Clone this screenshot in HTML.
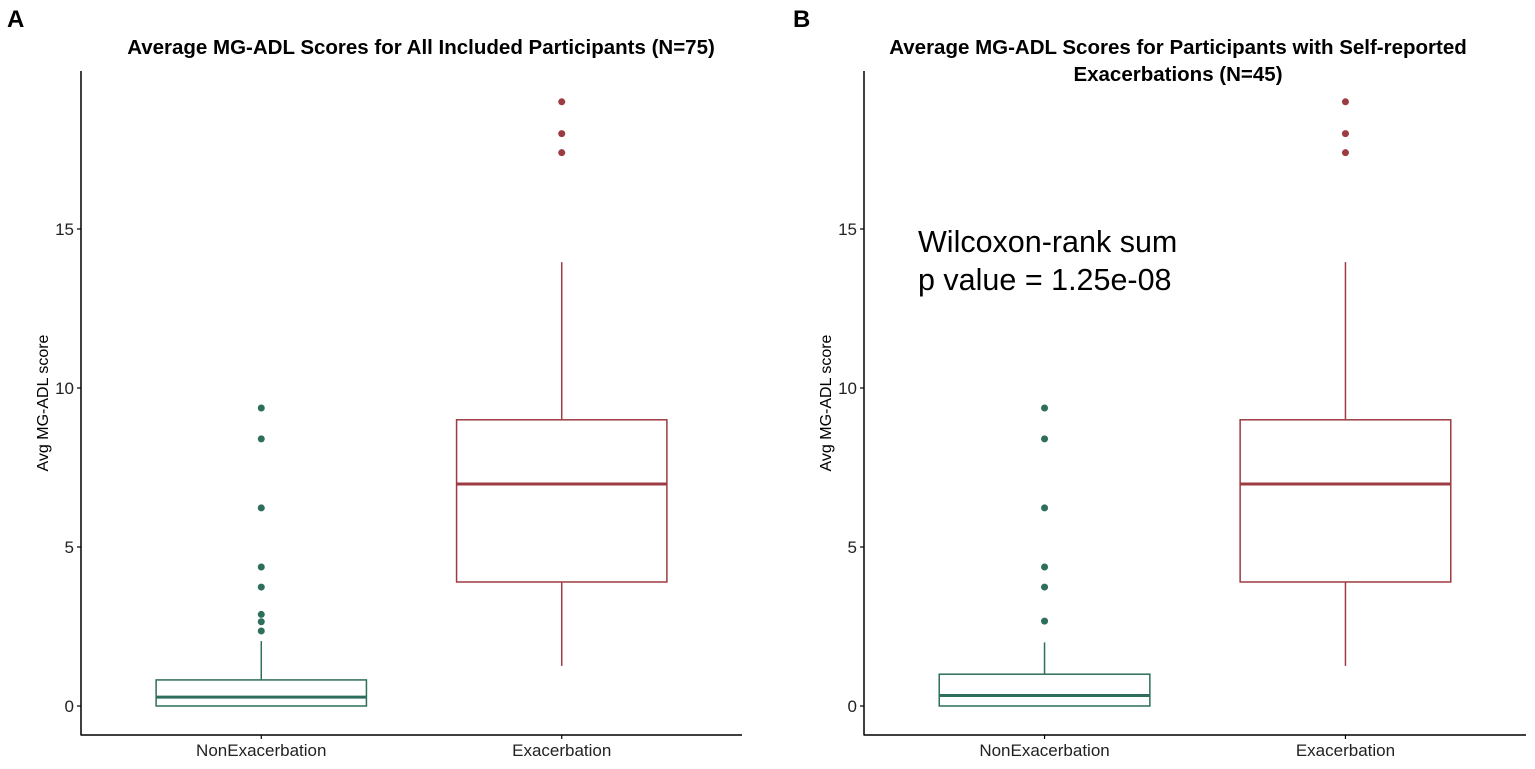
<!DOCTYPE html>
<html><head><meta charset="utf-8"><style>
body{margin:0;background:#fff;}
svg text{font-family:"Liberation Sans",Arial,sans-serif;}
</style></head><body>
<svg id="c" width="1535" height="764" xmlns="http://www.w3.org/2000/svg"></svg>
<script>
const categories = ["NonExacerbation","Exacerbation"];
const yTicks = [0,5,10,15];
// Panel A stats: [lowWhisker, q1, median, q3, highWhisker]
const statsA_non = [0,0,0.28,0.82,2.04];
const statsA_exa = [1.26,3.9,6.98,9.0,13.96];
const outA_non = [9.37,8.4,6.23,4.37,3.74,2.88,2.65,2.36];
const outA_exa = [19.0,18.0,17.4];
// Panel B
const statsB_non = [0,0,0.33,1.0,2.0];
const statsB_exa = [1.26,3.9,6.98,9.0,13.96];
const outB_non = [9.37,8.4,6.23,4.37,3.74,2.67];
const outB_exa = [19.0,18.0,17.4];
const colors = ["#2e6e5c","#9c3b41"];
const NS="http://www.w3.org/2000/svg";
const svg=document.getElementById('c');
function mk(t,a,p){const e=document.createElementNS(NS,t);for(const k in a)e.setAttribute(k,a[k]);(p||svg).appendChild(e);return e;}
function panel(id,x0,x1,stats,outs,titleLines,letter,lx,tcx,tfs){
  const g=mk('g',{});
  
  
  const yTop=71,yBot=735;
  const y=v=>706-v*31.8;
  const x=i=>x0+(i+1-0.4)*(x1-x0)/2.2;
  const bw=(x1-x0)/2.2*0.7;
  const L=mk('text',{x:lx,y:27,'font-size':24,'font-weight':'bold'},g);L.textContent=letter;
  
  titleLines.forEach((t,k)=>{const e=mk('text',{x:tcx,y:54+k*27,'font-size':tfs,'font-weight':'bold','text-anchor':'middle'},g);e.textContent=t;
    });
  const ya=mk('line',{x1:x0,y1:yTop,x2:x0,y2:yBot+0.5,stroke:'#000','stroke-width':1.5},g);
  
  const xa=mk('line',{x1:x0,y1:yBot,x2:x1,y2:yBot,stroke:'#000','stroke-width':1.5},g);
  
  yTicks.forEach(v=>{mk('line',{x1:x0-4,x2:x0,y1:y(v),y2:y(v),stroke:'#000','stroke-width':1.2},g);
    const t=mk('text',{x:x0-7,y:y(v)+6,'font-size':17,'text-anchor':'end',fill:'#222'},g);t.textContent=v;
    });
  const yt=mk('text',{x:0,y:0,'font-size':16,'text-anchor':'middle',transform:`translate(${x0-33},403) rotate(-90)`},g);yt.textContent='Avg MG-ADL score';
  
  categories.forEach((c,i)=>{
    const cx=x(i),s=stats[i],col=colors[i];
    mk('line',{x1:cx,x2:cx,y1:yBot,y2:yBot+4,stroke:'#000','stroke-width':1.2},g);
    const t=mk('text',{x:cx,y:756,'font-size':17,'text-anchor':'middle',fill:'#222'},g);t.textContent=c;
    
    const w1=mk('line',{x1:cx,x2:cx,y1:y(s[4]),y2:y(s[3]),stroke:col,'stroke-width':1.5},g);
    
    if(s[0]<s[1]){const w2=mk('line',{x1:cx,x2:cx,y1:y(s[1]),y2:y(s[0]),stroke:col,'stroke-width':1.5},g);
      }
    const r=mk('rect',{x:cx-bw/2,y:y(s[3]),width:bw,height:y(s[1])-y(s[3]),fill:'none',stroke:col,'stroke-width':1.5},g);
    
    const m=mk('line',{x1:cx-bw/2,x2:cx+bw/2,y1:y(s[2]),y2:y(s[2]),stroke:col,'stroke-width':3},g);
    
    outs[i].forEach(v=>{const p=mk('circle',{cx:cx,cy:y(v),r:3.5,fill:col},g);
      });
  });
  return g;
}
panel('a',81,742,[statsA_non,statsA_exa],[outA_non,outA_exa],["Average MG-ADL  Scores for All Included Participants (N=75)"],'A',7,421,20.5);
const gb=panel('b',864,1526,[statsB_non,statsB_exa],[outB_non,outB_exa],["Average MG-ADL  Scores for Participants with Self-reported","Exacerbations (N=45)"],'B',793,1178,20.5);
const a1=mk('text',{x:918,y:252,'font-size':30.5},gb);a1.textContent='Wilcoxon-rank sum';

const a2=mk('text',{x:918,y:290,'font-size':30.5},gb);a2.textContent='p value = 1.25e-08';

</script>
</body></html>
